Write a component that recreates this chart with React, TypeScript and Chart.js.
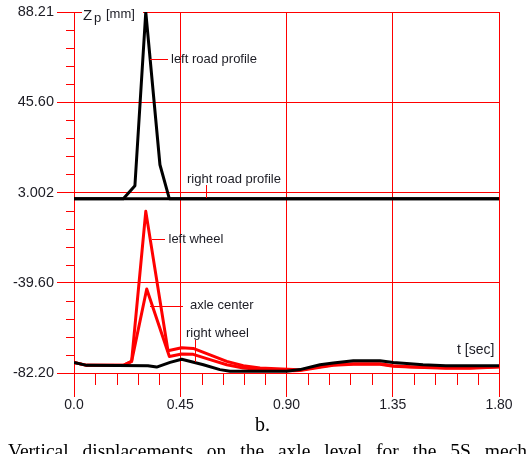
import React, { useEffect, useRef } from 'react';
import { Chart, registerables } from 'chart.js';

Chart.register(...registerables);

// ---- axis ticks ----
const xTickValues = [0, 0.45, 0.9, 1.35, 1.8];
const xTickLabels = ['0.0', '0.45', '0.90', '1.35', '1.80'];
const yTickValues = [-82.2, -39.6, 3.002, 45.6, 88.21];
const yTickLabels = ['-82.20', '-39.60', '3.002', '45.60', '88.21'];

// ---- series (time [sec], Zp [mm]) ----
const leftRoadTime = [0, 0.209, 0.258, 0.304, 0.364, 0.404, 1.8];
const leftRoadZ = [0, 0, 6.2, 88.21, 16.1, 0, 0];

const rightRoadTime = [0, 1.8];
const rightRoadZ = [0, 0];

const leftWheelTime = [0, 0.054, 0.209, 0.244, 0.304, 0.398, 0.456, 0.505, 0.576, 0.647, 0.717, 0.788, 0.929, 0.957, 1.042, 1.098, 1.183, 1.296, 1.352, 1.423, 1.575, 1.677, 1.8];
const leftWheelZ = [-77.2, -78.6, -78.6, -76.7, -5.9, -71.7, -70.3, -70.6, -73.6, -76.7, -78.75, -79.8, -80.6, -80.8, -79.2, -78.3, -77.8, -77.8, -78.75, -79.2, -79.7, -79.7, -79.2];

const axleTime = [0, 0.054, 0.209, 0.244, 0.308, 0.404, 0.456, 0.505, 0.576, 0.647, 0.717, 0.788, 0.929, 0.957, 1.042, 1.098, 1.183, 1.296, 1.352, 1.423, 1.575, 1.677, 1.8];
const axleZ = [-77.2, -78.6, -78.6, -76.7, -42.55, -74.4, -73.2, -73.4, -75.9, -78.3, -79.8, -80.6, -81.1, -81.0, -79.5, -78.6, -78.1, -78.1, -79.0, -79.4, -79.9, -79.9, -79.4];

const rightWheelTime = [0, 0.054, 0.313, 0.35, 0.407, 0.456, 0.548, 0.618, 0.661, 0.901, 0.957, 1.042, 1.098, 1.183, 1.296, 1.352, 1.423, 1.478, 1.575, 1.8];
const rightWheelZ = [-77.2, -78.6, -78.75, -79.4, -77.2, -75.7, -78.3, -80.6, -81.4, -81.4, -80.6, -78.3, -77.5, -76.4, -76.4, -77.2, -77.8, -78.3, -78.75, -78.75];

const pts = (t: number[], z: number[]) => t.map((x, i) => ({ x, y: z[i] }));

const SANS = '"Liberation Sans", Arial, sans-serif';
const RED = '#ff0000';
const TEXT = '#1c1c24';

const decorPlugin = {
  id: 'decor',
  afterDraw(chart: any) {
    const { ctx, chartArea } = chart;
    const xs = chart.scales.x;
    const ys = chart.scales.y;
    ctx.save();
    ctx.strokeStyle = RED;
    ctx.lineWidth = 1;
    for (let i = 0; i < xTickValues.length - 1; i++) {
      for (let k = 1; k < 5; k++) {
        const v = xTickValues[i] + ((xTickValues[i + 1] - xTickValues[i]) * k) / 5;
        const px = Math.round(xs.getPixelForValue(v)) + 0.5;
        ctx.beginPath();
        ctx.moveTo(px, chartArea.bottom);
        ctx.lineTo(px, chartArea.bottom + 12);
        ctx.stroke();
      }
    }
    for (let i = 0; i < yTickValues.length - 1; i++) {
      for (let k = 1; k < 5; k++) {
        const v = yTickValues[i] + ((yTickValues[i + 1] - yTickValues[i]) * k) / 5;
        const py = Math.round(ys.getPixelForValue(v)) + 0.5;
        ctx.beginPath();
        ctx.moveTo(chartArea.left - 8, py);
        ctx.lineTo(chartArea.left, py);
        ctx.stroke();
      }
    }
    const leaders = [
      [150, 59.5, 168, 59.5],
      [206.5, 185, 206.5, 198],
      [152, 239.5, 165, 239.5],
      [150, 306.5, 183, 306.5],
      [195.5, 340, 195.5, 362],
    ];
    leaders.forEach(([x1, y1, x2, y2]) => {
      ctx.beginPath();
      ctx.moveTo(x1, y1);
      ctx.lineTo(x2, y2);
      ctx.stroke();
    });
    ctx.fillStyle = TEXT;
    ctx.textBaseline = 'middle';
    ctx.textAlign = 'left';
    ctx.font = `13px ${SANS}`;
    ctx.fillText('left road profile', 171, 59.5);
    ctx.fillText('right road profile', 187, 179);
    ctx.fillText('left wheel', 168.5, 239);
    ctx.fillText('axle center', 190, 305.5);
    ctx.fillText('right wheel', 186, 333);
    ctx.font = `14px ${SANS}`;
    ctx.fillText('t [sec]', 457, 350);
    ctx.fillStyle = '#ffffff';
    ctx.fillRect(82, 4, 61, 16);
    ctx.fillStyle = TEXT;
    ctx.textBaseline = 'alphabetic';
    ctx.font = `15px ${SANS}`;
    ctx.fillText('Z', 83, 19.5);
    ctx.font = `13px ${SANS}`;
    ctx.fillText('p', 94, 22);
    ctx.fillText('[mm]', 106, 18);
    ctx.restore();
  },
};

export default function App() {
  const ref = useRef<HTMLCanvasElement>(null);
  useEffect(() => {
    if (!ref.current) return;
    const black = { borderColor: '#000000', borderWidth: 3, order: 0 };
    const red = { borderColor: RED, borderWidth: 3, order: 1 };
    const chart = new Chart(ref.current, {
      type: 'line',
      data: {
        datasets: [
          { label: 'left road profile', data: pts(leftRoadTime, leftRoadZ), ...black },
          { label: 'right road profile', data: pts(rightRoadTime, rightRoadZ), ...black },
          { label: 'right wheel', data: pts(rightWheelTime, rightWheelZ), ...black },
          { label: 'left wheel', data: pts(leftWheelTime, leftWheelZ), ...red },
          { label: 'axle center', data: pts(axleTime, axleZ), ...red },
        ],
      },
      options: {
        animation: false,
        responsive: false,
        devicePixelRatio: 1,
        layout: { padding: { left: 0, top: 12, right: 28, bottom: 0 } },
        plugins: { legend: { display: false }, tooltip: { enabled: false }, title: { display: false } },
        elements: {
          point: { radius: 0, hoverRadius: 0 },
          line: { tension: 0, borderJoinStyle: 'round', borderCapStyle: 'butt' },
        },
        scales: {
          x: {
            type: 'linear',
            min: 0,
            max: 1.8,
            afterBuildTicks: (s: any) => {
              s.ticks = xTickValues.map((v) => ({ value: v }));
            },
            afterFit: (s: any) => {
              s.height = 81;
            },
            grid: { color: RED, lineWidth: 1, drawTicks: true, tickLength: 24, tickColor: RED },
            border: { color: RED, width: 1 },
            ticks: {
              autoSkip: false,
              maxRotation: 0,
              padding: 0,
              color: TEXT,
              font: { family: SANS, size: 14 },
              callback: (_v: any, i: number) => xTickLabels[i],
            },
          },
          y: {
            type: 'linear',
            min: -82.2,
            max: 88.21,
            afterBuildTicks: (s: any) => {
              s.ticks = yTickValues.map((v) => ({ value: v }));
            },
            afterFit: (s: any) => {
              s.width = 74;
            },
            grid: { color: RED, lineWidth: 1, drawTicks: true, tickLength: 17, tickColor: RED },
            border: { color: RED, width: 1 },
            ticks: {
              autoSkip: false,
              padding: 3,
              color: TEXT,
              font: { family: SANS, size: 14.5 },
              callback: (_v: any, i: number) => yTickLabels[i],
            },
          },
        },
      } as any,
      plugins: [decorPlugin],
    });
    return () => chart.destroy();
  }, []);

  const serif = '"Liberation Serif", "Times New Roman", serif';
  return (
    <div style={{ position: 'absolute', left: 0, top: 0, width: 527, height: 454, overflow: 'hidden', background: '#ffffff' }}>
      <canvas ref={ref} width={527} height={454} style={{ position: 'absolute', left: 0, top: 0, width: 527, height: 454 }} />
      <div style={{ position: 'absolute', left: 0, top: 414, width: 525, textAlign: 'center', font: `20px ${serif}`, lineHeight: '20px', color: '#000' }}>
        b.
      </div>
      <div style={{ position: 'absolute', left: 8, top: 441, whiteSpace: 'nowrap', font: `19.5px ${serif}`, lineHeight: '20px', wordSpacing: '9px', color: '#000' }}>
        Vertical displacements on the axle level for the 5S mechanism
      </div>
    </div>
  );
}
